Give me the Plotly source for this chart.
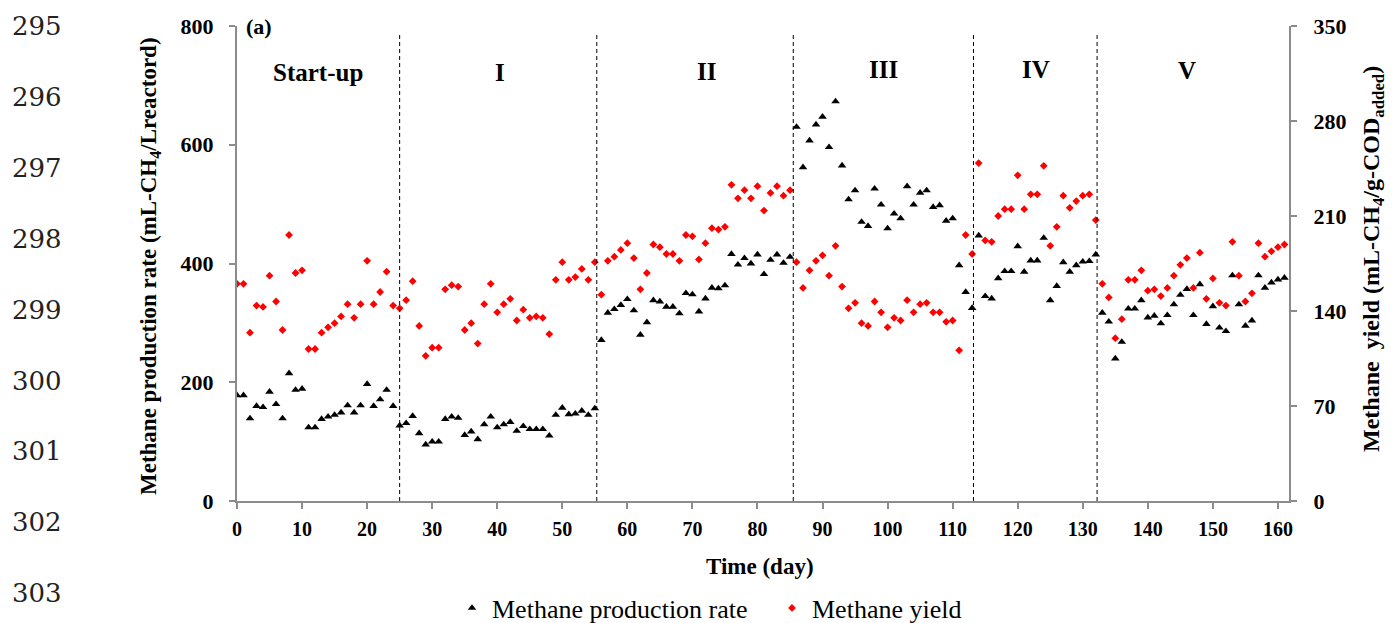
import plotly.graph_objects as go

# Operating days 0-161
days = list(range(162))

# Methane production rate (mL-CH4/Lreactor.d), left axis
rate = [
    178, 178, 139, 160, 158, 184, 163, 139, 215, 187,
    189, 124, 124, 138, 142, 145, 149, 161, 149, 161,
    197, 160, 171, 187, 160, 127, 131, 143, 114, 95,
    100, 100, 138, 142, 140, 111, 117, 104, 129, 142,
    124, 129, 133, 118, 126, 121, 121, 121, 110, 145,
    157, 146, 147, 152, 145, 156, 271, 317, 323, 330,
    340, 321, 280, 301, 338, 336, 327, 327, 316, 350,
    348, 319, 341, 359, 358, 363, 416, 398, 409, 400,
    415, 382, 406, 415, 401, 411, 630, 562, 607, 634,
    647, 596, 673, 565, 508, 523, 470, 463, 526, 499,
    459, 484, 476, 530, 499, 519, 523, 495, 498, 472,
    476, 397, 352, 325, 447, 345, 341, 375, 387, 387,
    429, 386, 405, 405, 443, 338, 362, 402, 386, 397,
    403, 404, 415, 317, 302, 240, 268, 324, 324, 338,
    309, 312, 299, 313, 331, 347, 357, 313, 365, 298,
    328, 292, 286, 380, 331, 295, 304, 380, 359, 368,
    373, 376,
]

# Methane yield (mL-CH4/g-COD added), right axis
yield_ = [
    160, 160, 124, 144, 143, 166, 147, 126, 196, 168,
    170, 112, 112, 124, 128, 131, 136, 145, 135, 145,
    177, 145, 154, 169, 144, 142, 148, 162, 129, 107,
    113, 113, 156, 159, 158, 126, 131, 116, 145, 160,
    139, 145, 149, 133, 141, 135, 136, 135, 123, 163,
    176, 163, 165, 171, 163, 176, 152, 177, 180, 185,
    190, 179, 156, 168, 189, 187, 182, 182, 177, 196,
    195, 178, 190, 201, 200, 202, 233, 223, 229, 223,
    232, 214, 227, 232, 225, 229, 176, 157, 170, 177,
    181, 166, 188, 158, 142, 146, 131, 129, 147, 139,
    128, 135, 133, 148, 139, 145, 146, 139, 139, 132,
    133, 111, 196, 182, 249, 192, 191, 210, 215, 215,
    240, 215, 226, 226, 247, 188, 202, 225, 216, 221,
    225, 226, 207, 160, 150, 120, 134, 163, 163, 170,
    155, 156, 151, 157, 166, 174, 179, 157, 183, 149,
    164, 146, 144, 191, 166, 147, 153, 190, 180, 184,
    187, 189,
]

# Operating phases: boundaries (day) and label placement
boundaries = [25.0, 55.3, 85.5, 113.2, 132.2]
phase_names = ["Start-up", "I", "II", "III", "IV", "V"]
phase_x = [12.5, 40.4, 72.1, 99.3, 122.8, 146.0]
phase_y = [721, 721, 724, 727, 727, 725]

x_ticks = list(range(0, 161, 10))
left_ticks = [0, 200, 400, 600, 800]
right_ticks = [0, 70, 140, 210, 280, 350]
line_numbers = [str(n) for n in range(295, 304)]

W, H = 1400, 623
ML, MR, MT, MB = 237, 111, 26, 122
PW, PH = W - ML - MR, H - MT - MB

AXIS_GREY = "#8c8c8c"
SERIF = "Liberation Serif"
NUM_FONT = "DejaVu Serif"


def px_to_paper(px, py):
    return (px - ML) / PW, 1 - (py - MT) / PH


fig = go.Figure()

fig.add_trace(go.Scatter(
    x=days, y=rate, mode="markers", name="Methane production rate",
    marker=dict(symbol="triangle-up", size=7.5, color="black"),
    yaxis="y",
))
fig.add_trace(go.Scatter(
    x=days, y=yield_, mode="markers", name="Methane yield",
    marker=dict(symbol="diamond", size=6, color="#ff0000"),
    yaxis="y2",
))

# Dashed phase boundaries
for b in boundaries:
    fig.add_shape(type="line", xref="x", yref="y", x0=b, x1=b, y0=0, y1=785,
                  line=dict(color="black", width=1, dash="4px,3px"))

annotations = []
for name, px_, py_ in zip(phase_names, phase_x, phase_y):
    annotations.append(dict(
        x=px_, y=py_, xref="x", yref="y", text=f"<b>{name}</b>", showarrow=False,
        font=dict(family=SERIF, size=25, color="black"),
        xanchor="center", yanchor="middle",
    ))

# Panel tag
ax, ay = px_to_paper(244, 27)
annotations.append(dict(x=ax, y=ay, xref="paper", yref="paper", text="<b>(a)</b>",
                        showarrow=False, xanchor="left", yanchor="middle",
                        font=dict(family=SERIF, size=22, color="black")))

# Axis titles
tx, ty = px_to_paper(150, 266)
annotations.append(dict(
    x=tx, y=ty, xref="paper", yref="paper", textangle=-90, showarrow=False,
    text="<b>Methane production rate (mL-CH<sub>4</sub>/Lreactord)</b>",
    font=dict(family=SERIF, size=23, color="black"), xanchor="center", yanchor="middle",
))
tx, ty = px_to_paper(1373, 259)
annotations.append(dict(
    x=tx, y=ty, xref="paper", yref="paper", textangle=-90, showarrow=False,
    text="<b>Methane&nbsp; yield (mL-CH<sub>4</sub>/g-COD<sub>added</sub>)</b>",
    font=dict(family=SERIF, size=24, color="black"), xanchor="center", yanchor="middle",
))
tx, ty = px_to_paper(760, 566)
annotations.append(dict(
    x=tx, y=ty, xref="paper", yref="paper", showarrow=False,
    text="<b>Time (day)</b>", font=dict(family=SERIF, size=23, color="black"),
    xanchor="center", yanchor="middle",
))

# Manuscript line numbers down the left margin
for i, ln in enumerate(line_numbers):
    lx, ly = px_to_paper(10, 26 + i * 70.9)
    annotations.append(dict(
        x=lx, y=ly, xref="paper", yref="paper", text=ln, showarrow=False,
        xanchor="left", yanchor="middle",
        font=dict(family=NUM_FONT, size=26, color="#222222"),
    ))

lgx, lgy = px_to_paper(452, 608)

fig.update_layout(
    width=W, height=H,
    margin=dict(l=ML, r=MR, t=MT, b=MB, pad=0, autoexpand=False),
    paper_bgcolor="white", plot_bgcolor="white",
    font=dict(family=SERIF, color="black"),
    showlegend=True,
    legend=dict(
        orientation="h", x=lgx, y=lgy, xanchor="left", yanchor="middle",
        font=dict(family=SERIF, size=26, color="black"),
        entrywidth=275, entrywidthmode="pixels",
        itemsizing="trace", bgcolor="rgba(0,0,0,0)",
    ),
    xaxis=dict(
        range=[0, 161.7], tickvals=x_ticks, ticktext=[str(v) for v in x_ticks],
        showgrid=False, zeroline=False, showline=True, linecolor=AXIS_GREY, linewidth=2,
        ticks="outside", ticklen=6, tickcolor=AXIS_GREY, tickwidth=1.5,
        tickfont=dict(family=SERIF, size=20, color="black", weight="bold"),
        ticklabelstandoff=3,
    ),
    yaxis=dict(
        range=[0, 800], tickvals=left_ticks, ticktext=[str(v) for v in left_ticks],
        showgrid=False, zeroline=False, showline=True, linecolor=AXIS_GREY, linewidth=2,
        ticks="outside", ticklen=6, tickcolor=AXIS_GREY, tickwidth=1.5,
        tickfont=dict(family=SERIF, size=22, color="black", weight="bold"),
        ticklabelstandoff=11,
    ),
    yaxis2=dict(
        range=[0, 350], tickvals=right_ticks, ticktext=[str(v) for v in right_ticks],
        overlaying="y", side="right", anchor="x",
        showgrid=False, zeroline=False, showline=True, linecolor=AXIS_GREY, linewidth=2,
        ticks="outside", ticklen=6, tickcolor=AXIS_GREY, tickwidth=1.5,
        tickfont=dict(family=SERIF, size=22, color="black", weight="bold"),
        ticklabelstandoff=12,
    ),
    annotations=annotations,
)

fig.write_html("out.html")
